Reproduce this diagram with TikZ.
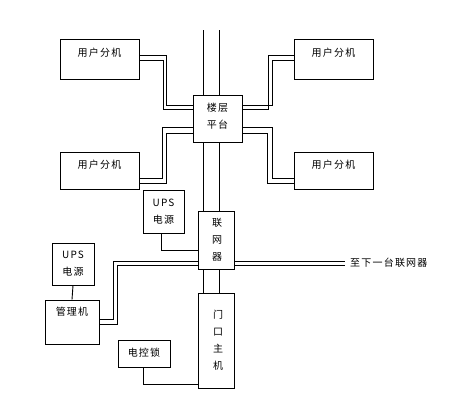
\documentclass[tikz,border=0pt]{standalone}
\usepackage{fontspec}
\setmainfont[LetterSpace=12]{Noto Sans CJK SC}
\begin{document}
\begin{tikzpicture}[x=1pt,y=-1pt,
 box/.style={draw, line width=0.9pt, inner sep=0pt},
 lbl/.style={font=\fontsize{10}{17}\selectfont, inner sep=0pt, align=center},
 wire/.style={line width=0.9pt}]
\useasboundingbox[fill=white] (0,0) rectangle (476,402);
% boxes
\node[box, minimum width=79, minimum height=40] (u1) at (99.5,59) {};
\node[box, minimum width=79, minimum height=40] (u2) at (333.5,59) {};
\node[box, minimum width=79, minimum height=37] (u3) at (99.5,170.5) {};
\node[box, minimum width=79, minimum height=37] (u4) at (333.5,170.5) {};
\node[box, minimum width=49, minimum height=47] (plat) at (217.5,118.5) {};
\node[box, minimum width=36, minimum height=58] (lwq) at (216,240) {};
\node[box, minimum width=41, minimum height=43] (ups1) at (163.5,211.5) {};
\node[box, minimum width=42, minimum height=42] (ups2) at (73,264) {};
\node[box, minimum width=54, minimum height=44] (glj) at (72,322) {};
\node[box, minimum width=52, minimum height=27] (dks) at (144,353.5) {};
\node[box, minimum width=36, minimum height=95] (mk) at (216,340.5) {};
% labels
\node[lbl] (t1) at (99.5,53) {用户分机};
\node[lbl] (t2) at (333.5,53) {用户分机};
\node[lbl] (t3) at (99.5,165) {用户分机};
\node[lbl] (t4) at (333.5,165) {用户分机};
\node[lbl] (tplat) at (217.5,116.5) {楼层\\平台};
\node[lbl] (tlwq) at (217,240) {联\\网\\器};
\node[lbl] (tmk) at (218,340) {门\\口\\主\\机};
\node[lbl] (tups1) at (163.5,211.5) {UPS\\电源};
\node[lbl] (tups2) at (73,263.5) {UPS\\电源};
\node[lbl] (tglj) at (72,312) {管理机};
\node[lbl] (tdks) at (144,352.5) {电控锁};
\node[lbl, anchor=west] (tnext) at (350,263) {至下一台联网器};
% trunk
\coordinate (topA) at (203,30);
\coordinate (topB) at (219,30);
\coordinate (endA) at (345,261.5);
\coordinate (endB) at (345,265.5);
\draw[wire] (topA) -- (topA |- plat.north);
\draw[wire] (topB) -- (topB |- plat.north);
\draw[wire] (plat.south -| topA) -- (lwq.north -| topA);
\draw[wire] (plat.south -| topB) -- (lwq.north -| topB);
\draw[wire] (lwq.south -| topA) -- (mk.north -| topA);
\draw[wire] (lwq.south -| topB) -- (mk.north -| topB);
% user phones
\draw[wire] (u1.east |- 0,55) -- (166,55) -- (166,105) -- (plat.west |- 0,105);
\draw[wire] (u1.east |- 0,60) -- (163,60) -- (163,109) -- (plat.west |- 0,109);
\draw[wire] (u2.west |- 0,55) -- (268,55) -- (268,109) -- (plat.east |- 0,109);
\draw[wire] (u2.west |- 0,60) -- (272,60) -- (272,105) -- (plat.east |- 0,105);
\draw[wire] (plat.west |- 0,127) -- (162,127) -- (162,178) -- (u3.east |- 0,178);
\draw[wire] (plat.west |- 0,133) -- (166,133) -- (166,183) -- (u3.east |- 0,183);
\draw[wire] (plat.east |- 0,127) -- (272,127) -- (272,178) -- (u4.west |- 0,178);
\draw[wire] (plat.east |- 0,133) -- (267,133) -- (267,183) -- (u4.west |- 0,183);
% UPS / network
\draw[wire] (ups1.south -| 161,0) -- (161,250) -- (lwq.west |- 0,250);
\draw[wire] (lwq.west |- 0,261.5) -- (113,261.5) -- (113,319) -- (glj.east |- 0,319);
\draw[wire] (lwq.west |- 0,265.5) -- (117,265.5) -- (117,324) -- (glj.east |- 0,324);
\draw[wire] (lwq.east |- endA) -- (endA);
\draw[wire] (lwq.east |- endB) -- (endB);
\draw[wire] (ups2.south) -- (glj.north);
\draw[wire] (dks.south -| 143,0) -- (143,384) -- (mk.west |- 0,384);
\end{tikzpicture}
\end{document}
